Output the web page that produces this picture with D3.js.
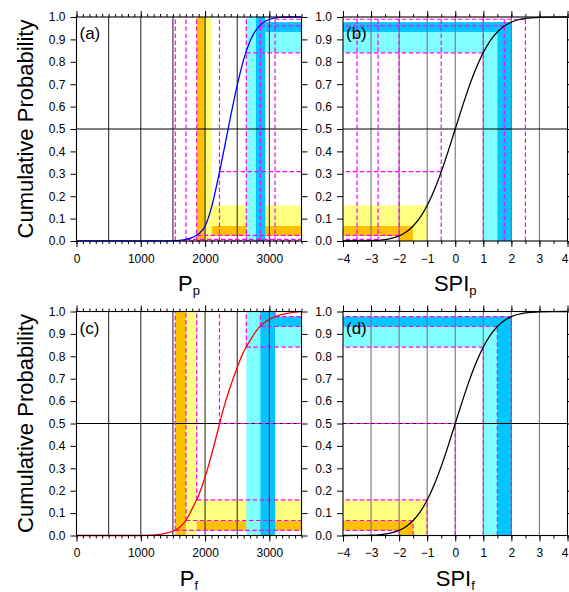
<!DOCTYPE html>
<html>
<head>
<meta charset="utf-8">
<script src="https://cdn.jsdelivr.net/npm/d3@7"></script>
<style>
  html, body { margin: 0; padding: 0; background: #fff; }
  svg { display: block; font-family: "Liberation Sans", Arial, sans-serif; }
</style>
</head>
<body>
<div id="chart"></div>
<script>
// ---- values ----
const probTicks = [0.0, 0.1, 0.2, 0.3, 0.4, 0.5, 0.6, 0.7, 0.8, 0.9, 1.0];
const pTickLabels = [0, 1000, 2000, 3000];
const spiTickLabels = [-4, -3, -2, -1, 0, 1, 2, 3, 4];
const pGrid = [500, 1000, 1500, 2000, 2500, 3000];
const spiGrid = [-3, -2, -1, 0, 1, 2, 3];

// P_p cumulative curve (a)
const ppX = [0, 1000, 1400, 1500, 1600, 1700, 1800, 1900, 2000, 2100, 2200, 2300, 2400, 2500, 2600, 2700, 2800, 2900, 3000, 3100, 3200, 3300, 3500];
const ppY = [0, 0, 0, 0.001, 0.003, 0.007, 0.015, 0.032, 0.066, 0.150, 0.275, 0.415, 0.560, 0.695, 0.810, 0.893, 0.945, 0.974, 0.989, 0.996, 0.999, 1.0, 1.0];

// P_f cumulative curve (c)
const pfX = [0, 1000, 1100, 1200, 1300, 1400, 1500, 1600, 1700, 1800, 1900, 2000, 2100, 2200, 2300, 2400, 2500, 2600, 2700, 2800, 2900, 3000, 3100, 3200, 3300, 3400, 3500];
const pfY = [0, 0, 0.001, 0.002, 0.005, 0.011, 0.019, 0.036, 0.066, 0.12, 0.18, 0.26, 0.36, 0.47, 0.58, 0.67, 0.75, 0.82, 0.87, 0.915, 0.945, 0.965, 0.978, 0.987, 0.993, 0.997, 0.999];

// SPI cumulative curve (b, d)
const spiX = [-4, -3.5, -3, -2.5, -2, -1.75, -1.5, -1.25, -1, -0.75, -0.5, -0.25, 0, 0.25, 0.5, 0.75, 1, 1.25, 1.5, 1.75, 2, 2.5, 3, 3.5, 4];
const spiY = [0.0000, 0.0002, 0.0013, 0.0062, 0.0228, 0.0401, 0.0668, 0.1056, 0.1587, 0.2266, 0.3085, 0.4013, 0.5, 0.5987, 0.6915, 0.7734, 0.8413, 0.8944, 0.9332, 0.9599, 0.9772, 0.9938, 0.9987, 0.9998, 1.0];

// class edges: SPI -2, -1.5, -1, 1, 1.5, 2
const spiEdges = [-2, -1.5, -1, 1, 1.5, 2];
const edgeProbs = [0.023, 0.067, 0.159, 0.841, 0.933, 0.977];
const ppEdges = [1870, 2010, 2103, 2642, 2792, 2937];
const pfEdges = [1536, 1703, 1870, 2642, 2860, 3089];

// dashed markers
const pfMarks = [1536, 1703, 1870, 2224, 2642, 2860, 3089];
const pfMarkProbs = [0.023, 0.067, 0.159, 0.5, 0.841, 0.933, 0.977];
const spiFMarks = [-2, -1.5, -1, 0, 1, 1.5, 2];
const spiPMarks = [-3.5, -2.75, -2, -0.5, 1, 1.75, 2.5];
const ppMarkProbs = [0.001, 0.007, 0.025, 0.31, 0.84, 0.96, 0.99];

// ---- layout ----
const W = 569, H = 592;
const colX = [[76.5, 301.5], [343, 567.5]];
const rowY = [[17, 241], [311.5, 535.5]];

const colors = {
    orange: "#ffc000",
    yellow: "#ffff80",
    lightCyan: "#80ffff",
    darkCyan: "#00c6ff",
    dash: "#ff00ff",
    gridP: "#333",
    gridS: "#777"
};

const bandDefs = [
    { lo: 0, hi: 1, fill: colors.orange },
    { lo: 1, hi: 2, fill: colors.yellow },
    { lo: 3, hi: 4, fill: colors.lightCyan },
    { lo: 4, hi: 5, fill: colors.darkCyan }
];

const panels = [
    { tag: "(a)", kind: "p", col: 0, row: 0, cx: ppX, cy: ppY, stroke: "#0000ff", edges: ppEdges,
      mx: pfMarks, my: ppMarkProbs, vMode: "full", hSide: "right", title: "P", sub: "p" },
    { tag: "(b)", kind: "s", col: 1, row: 0, cx: spiX, cy: spiY, stroke: "#000", edges: spiEdges,
      mx: spiPMarks, my: ppMarkProbs, vMode: "full", hSide: "left", title: "SPI", sub: "p" },
    { tag: "(c)", kind: "p", col: 0, row: 1, cx: pfX, cy: pfY, stroke: "#ff0000", edges: pfEdges,
      mx: pfMarks, my: pfMarkProbs, vMode: "top", hSide: "right", title: "P", sub: "f" },
    { tag: "(d)", kind: "s", col: 1, row: 1, cx: spiX, cy: spiY, stroke: "#000", edges: spiEdges,
      mx: spiFMarks, my: pfMarkProbs, vMode: "bottom", hSide: "left", title: "SPI", sub: "f" }
];

const svg = d3.select("#chart").append("svg")
    .attr("width", W)
    .attr("height", H)
    .attr("viewBox", [0, 0, W, H]);

function rect(g, x0, x1, y0, y1, fill) {
    g.append("rect")
        .attr("x", Math.min(x0, x1))
        .attr("y", Math.min(y0, y1))
        .attr("width", Math.abs(x1 - x0))
        .attr("height", Math.abs(y1 - y0))
        .attr("fill", fill);
}

function line(g, x0, y0, x1, y1, stroke, dash, width) {
    return g.append("line")
        .attr("x1", x0).attr("y1", y0)
        .attr("x2", x1).attr("y2", y1)
        .attr("stroke", stroke)
        .attr("stroke-width", width || 1)
        .attr("stroke-dasharray", dash || null);
}

function drawPanel(p) {
    const [left, right] = colX[p.col];
    const [top, bottom] = rowY[p.row];
    const isP = p.kind === "p";
    const xDomain = isP ? [0, 3500] : [-4, 4];

    const x = d3.scaleLinear().domain(xDomain).range([left, right]);
    const y = d3.scaleLinear().domain([0, 1]).range([bottom, top]);
    const g = svg.append("g");

    // shaded classes
    bandDefs.forEach(b => {
        const e0 = p.edges[b.lo], e1 = p.edges[b.hi];
        const p0 = edgeProbs[b.lo], p1 = edgeProbs[b.hi];
        if (isP) {
            rect(g, x(e0), x(e1), y(0), y(1), b.fill);
            rect(g, x(e1), x(xDomain[1]), y(p0), y(p1), b.fill);
        } else {
            rect(g, x(xDomain[0]), x(e1), y(p0), y(p1), b.fill);
            rect(g, x(e0), x(e1), y(0), y(p1), b.fill);
        }
    });

    // grid
    (isP ? pGrid : spiGrid).forEach(v => line(g, x(v), y(0), x(v), y(1), isP ? colors.gridP : colors.gridS, null, 1.1));
    line(g, x(xDomain[0]), y(0.5), x(xDomain[1]), y(0.5), "#000", null, 1.1);

    // dashed markers
    p.mx.forEach((v, i) => {
        const pr = p.my[i];
        let y0 = y(0), y1 = y(1);
        if (p.vMode === "top") y0 = y(pr);
        if (p.vMode === "bottom") y1 = y(pr);
        line(g, x(v), y0, x(v), y1, colors.dash, "4.5,2.5", 1.2);
        const xEnd = p.hSide === "right" ? x(xDomain[1]) : x(xDomain[0]);
        line(g, x(v), y(pr), xEnd, y(pr), colors.dash, "4.5,2.5", 1.2);
    });

    // curve
    const pts = p.cx.map((v, i) => [v, p.cy[i]]);
    g.append("path")
        .datum(pts)
        .attr("fill", "none")
        .attr("stroke", p.stroke)
        .attr("stroke-width", 1.3)
        .attr("d", d3.line().x(d => x(d[0])).y(d => y(d[1])).curve(d3.curveMonotoneX));

    // frame
    g.append("rect")
        .attr("x", left).attr("y", top)
        .attr("width", right - left).attr("height", bottom - top)
        .attr("fill", "none").attr("stroke", "#000").attr("stroke-width", 1.1);

    // axes
    const minor = isP ? d3.range(0, 3501, 100) : d3.range(-4, 4.01, 0.5);
    const major = isP ? pTickLabels : spiTickLabels;
    const style = a => a.call(s => s.select(".domain").remove())
        .attr("font-family", null).attr("font-size", 12);

    svg.append("g").attr("transform", `translate(0,${bottom})`)
        .call(d3.axisBottom(x).tickValues(minor).tickSize(3).tickFormat(""))
        .call(style);
    svg.append("g").attr("transform", `translate(0,${top})`)
        .call(d3.axisTop(x).tickValues(minor).tickSize(3).tickFormat(""))
        .call(style);
    const xLab = svg.append("g").attr("transform", `translate(0,${bottom})`)
        .call(d3.axisBottom(x).tickValues(major).tickSize(6).tickPadding(7).tickFormat(d3.format("d")))
        .call(style);
    // keep the last label inside the window
    if (!isP) xLab.selectAll(".tick text").filter(d => d === 4).attr("text-anchor", "end").attr("dx", 0.5);
    svg.append("g").attr("transform", `translate(0,${top})`)
        .call(d3.axisTop(x).tickValues(major).tickSize(6).tickFormat(""))
        .call(style);

    svg.append("g").attr("transform", `translate(${left},0)`)
        .call(d3.axisLeft(y).tickValues(probTicks).tickSize(6).tickPadding(5).tickFormat(d3.format(".1f")))
        .call(style);
    svg.append("g").attr("transform", `translate(${right},0)`)
        .call(d3.axisRight(y).tickValues(probTicks).tickSize(6).tickFormat(""))
        .call(style);

    // panel tag
    svg.append("text")
        .attr("x", left + 3).attr("y", top + 22)
        .attr("font-size", 17)
        .text(p.tag);

    // axis title
    const t = svg.append("text")
        .attr("x", (left + right) / 2).attr("y", bottom + 50)
        .attr("text-anchor", "middle")
        .attr("font-size", 22);
    t.append("tspan").text(p.title);
    t.append("tspan").attr("font-size", 13).attr("dy", 4).text(p.sub);

    // y title on the left column
    if (p.col === 0) {
        svg.append("text")
            .attr("transform", `translate(33,${(top + bottom) / 2}) rotate(-90)`)
            .attr("text-anchor", "middle")
            .attr("font-size", 22)
            .text("Cumulative Probability");
    }
}

panels.forEach(drawPanel);
</script>
</body>
</html>
